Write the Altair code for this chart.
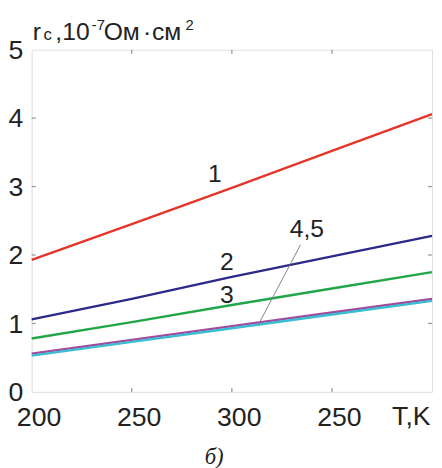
import altair as alt
import pandas as pd

# ---- data ----
temps = [200, 250, 300, 350, 400]
series_names = ["1", "2", "3", "4", "5"]
r1 = [1.93, 2.45, 2.98, 3.52, 4.06]
r2 = [1.06, 1.36, 1.68, 1.98, 2.28]
r3 = [0.78, 1.02, 1.27, 1.51, 1.75]
r4 = [0.56, 0.76, 0.96, 1.16, 1.36]
r5 = [0.53, 0.73, 0.93, 1.13, 1.33]
colors = ["#e5352b", "#2c2a88", "#22a64a", "#a24a9c", "#38bdd2"]

x_ticks = [200, 250, 300, 350, 400]
x_tick_labels = ["200", "250", "300", "250", "T,K"]
y_ticks = [0, 1, 2, 3, 4, 5]

curve_label_text = ["1", "2", "3", "4,5"]
curve_label_x = [291.5, 297.5, 297.5, 337.5]
curve_label_y = [3.18, 1.89, 1.41, 2.38]
leader_x = [334.3, 313.2]
leader_y = [2.15, 0.98]

W, H = 406, 347
FONT = "Liberation Sans"
AX = "#9a9a9a"
TXT = "#222222"

rows = []
for name, vals in zip(series_names, [r1, r2, r3, r4, r5]):
    for t, v in zip(temps, vals):
        rows.append({"T": t, "r": v, "s": name})
df = pd.DataFrame(rows)

xs = alt.Scale(domain=[200, 400], nice=False)
ys = alt.Scale(domain=[0, 5], nice=False)

label_expr = "datum.value == 400 ? '' : datum.value == 350 ? '250' : datum.label"

base = alt.Chart(df)

lines = base.mark_line(strokeWidth=2.4).encode(
    x=alt.X("T:Q", scale=xs,
            axis=alt.Axis(values=x_ticks[:4], labelExpr=label_expr, title=None,
                          ticks=False, domain=False, grid=False, labelFont=FONT,
                          labelFontSize=27, labelColor=TXT, labelPadding=13,
                          labelOffset=7, labelFlush=False)),
    y=alt.Y("r:Q", scale=ys,
            axis=alt.Axis(values=y_ticks, title=None, ticks=False, domain=False,
                          grid=False, labelFont=FONT, labelFontSize=27,
                          labelColor=TXT, labelPadding=9, labelOffset=1,
                          labelFlush=False, format="d")),
    color=alt.Color("s:N", scale=alt.Scale(domain=series_names, range=colors), legend=None),
    order=alt.Order("s:N", sort="descending"),
)

# inward ticks
xt = pd.DataFrame({"v": x_ticks[1:4]})
yt = pd.DataFrame({"v": y_ticks[1:5]})
tick_style = dict(color=AX, strokeWidth=1.3)
bottom_ticks = alt.Chart(xt).mark_rule(**tick_style).encode(
    x=alt.X("v:Q", scale=xs), y=alt.value(H), y2=alt.value(H - 4))
top_ticks = alt.Chart(xt).mark_rule(**tick_style).encode(
    x=alt.X("v:Q", scale=xs), y=alt.value(0), y2=alt.value(4))
left_ticks = alt.Chart(yt).mark_rule(**tick_style).encode(
    y=alt.Y("v:Q", scale=ys), x=alt.value(0), x2=alt.value(4))
right_ticks = alt.Chart(yt).mark_rule(**tick_style).encode(
    y=alt.Y("v:Q", scale=ys), x=alt.value(W - 4), x2=alt.value(W))

# last x label "T,K"
tk = alt.Chart(pd.DataFrame({"v": [x_ticks[-1]], "t": [x_tick_labels[-1]]})).mark_text(
    font=FONT, fontSize=27, color=TXT, align="center", baseline="top", dx=-21, dy=13
).encode(x=alt.X("v:Q", scale=xs), y=alt.value(H), text="t:N")

# curve labels
cl = alt.Chart(pd.DataFrame({"x": curve_label_x, "y": curve_label_y, "t": curve_label_text})).mark_text(
    font=FONT, fontSize=25, color=TXT, align="center", baseline="middle"
).encode(x=alt.X("x:Q", scale=xs), y=alt.Y("y:Q", scale=ys), text="t:N")

leader = alt.Chart(pd.DataFrame({"x": leader_x, "y": leader_y})).mark_line(
    color="#777777", strokeWidth=0.9
).encode(x=alt.X("x:Q", scale=xs), y=alt.Y("y:Q", scale=ys))

# y-axis title pieces: r_c,10^-7 Ом·см^2
title_parts = [
    ("r", 1, -10, 25),
    ("c", 12, -10, 17),
    (",10", 24, -10, 25),
    ("-7", 61, -20, 15),
    ("Ом", 73, -10, 25),
    ("·", 113, -10, 25),
    ("см", 122, -10, 25),
    ("2", 156, -20, 15),
]
title_layers = []
for txt, px, py, fs in title_parts:
    title_layers.append(
        alt.Chart(pd.DataFrame({"t": [txt]})).mark_text(
            font=FONT, fontSize=fs, color=TXT, align="left", baseline="alphabetic"
        ).encode(x=alt.value(px), y=alt.value(py), text="t:N")
    )

caption = alt.Chart(pd.DataFrame({"t": ["б)"]})).mark_text(
    font="Liberation Serif", fontSize=23, fontStyle="italic", color=TXT,
    align="center", baseline="alphabetic"
).encode(x=alt.value(185), y=alt.value(420), text="t:N")

chart = alt.layer(
    lines, bottom_ticks, top_ticks, left_ticks, right_ticks, leader, cl, tk, caption,
    *title_layers
).properties(
    width=W, height=H,
    autosize=alt.AutoSizeParams(type="none"),
    padding={"left": 24, "right": 2, "top": 39, "bottom": 80},
).configure_view(stroke=AX, strokeWidth=1.5).configure(background="white")

chart.save("out.html", embed_options={"renderer": "svg", "actions": False})
